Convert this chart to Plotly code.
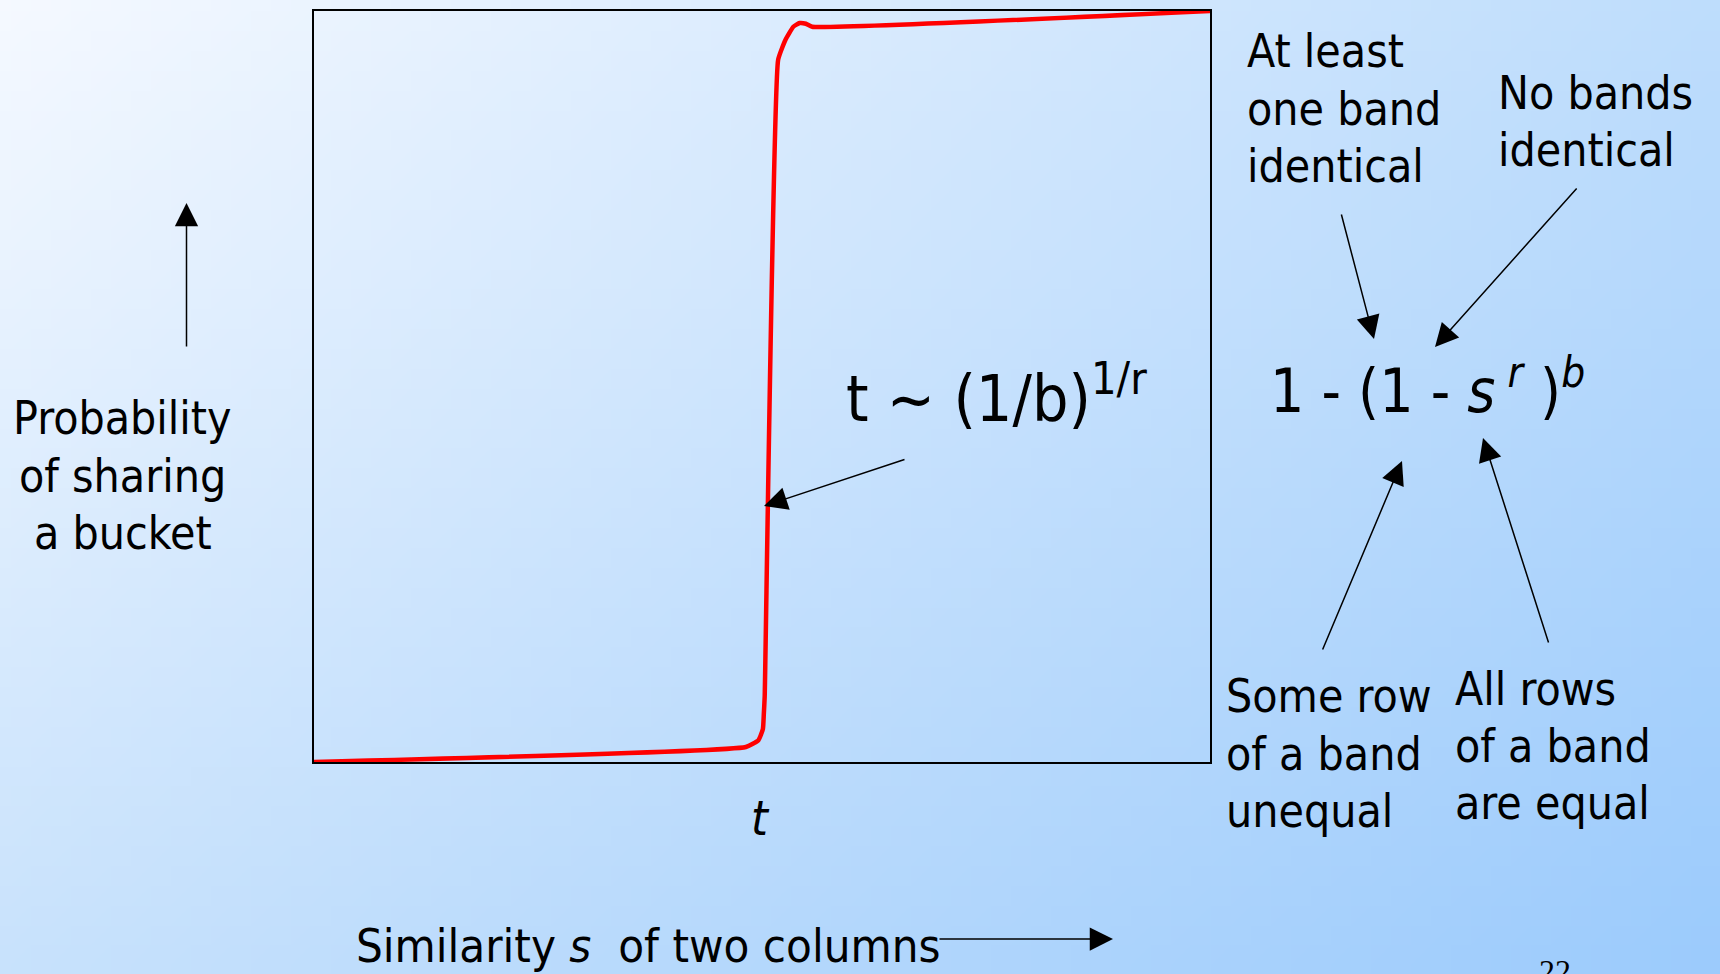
import base64
import struct
import zlib

import plotly.graph_objects as go

# ---------------- data ----------------
sim_s = [0.0, 0.482, 0.496, 0.501, 0.502, 0.503, 0.518, 0.526, 0.535, 0.542, 0.549, 0.556, 1.0]
prob = [0.0, 0.020, 0.029, 0.044, 0.063, 0.087, 0.935, 0.961, 0.979, 0.984, 0.983, 0.979, 1.0]

y_label_lines = ["Probability", "of sharing", "a bucket"]
x_label = "Similarity <i>s</i>  of two columns"
t_label = "t"
threshold_label = "t ~ (1/b)<sup>1/r</sup>"
formula = "1 - (1 - <i>s</i><sup> <i>r</i></sup> )<sup><i>b</i></sup>"
left_note = ["At least", "one band", "identical"]
right_note = ["No bands", "identical"]
low_left_note = ["Some row", "of a band", "unequal"]
low_right_note = ["All rows", "of a band", "are equal"]
page_number = "22"

W, H = 1720, 974
FONT = "DejaVu Sans Condensed, DejaVu Sans, sans-serif"
DESC = 0.236  # font descent (em)


# ---------------- background gradient (PNG data URI) ----------------
def make_png(w, h, corners):
    tl, tr, bl, br = corners
    raw = bytearray()
    for j in range(h):
        v = j / (h - 1)
        raw.append(0)
        for i in range(w):
            u = i / (w - 1)
            for c in range(3):
                top = tl[c] * (1 - u) + tr[c] * u
                bot = bl[c] * (1 - u) + br[c] * u
                raw.append(int(round(top * (1 - v) + bot * v)))

    def chunk(tag, data):
        c = struct.pack(">I", len(data)) + tag + data
        return c + struct.pack(">I", zlib.crc32(tag + data) & 0xFFFFFFFF)

    png = b"\x89PNG\r\n\x1a\n"
    png += chunk(b"IHDR", struct.pack(">IIBBBBB", w, h, 8, 2, 0, 0, 0))
    png += chunk(b"IDAT", zlib.compress(bytes(raw), 9))
    png += chunk(b"IEND", b"")
    return "data:image/png;base64," + base64.b64encode(png).decode()


bg = make_png(86, 49, [(245, 249, 255), (190, 221, 252), (200, 226, 252), (156, 203, 252)])


def px(x):
    return x / W


def py(y):
    return 1 - y / H


annotations = []


def text(t, x, base, size, anchor="left", italic=False, family=FONT):
    annotations.append(dict(
        text=t, xref="paper", yref="paper", x=px(x), y=py(base + DESC * size + 1),
        xanchor=anchor, yanchor="bottom", showarrow=False,
        font=dict(family=family, size=size, color="black",
                  style="italic" if italic else "normal"),
    ))


def arrow(x0, y0, x1, y1):
    annotations.append(dict(
        text="", xref="paper", yref="paper", x=px(x1), y=py(y1),
        ax=x0 - x1, ay=y0 - y1, showarrow=True, arrowhead=2, arrowsize=3.1,
        arrowwidth=1.5, arrowcolor="black", standoff=0, startstandoff=0,
    ))


# left label
for line, base in zip(y_label_lines, [435, 493, 550]):
    text(line, 123, base, 46, anchor="center")
arrow(186.5, 348, 186.5, 203)

# bottom label
text(x_label, 354, 963, 47)
arrow(938, 939, 1113, 939)

# t under the box
text(t_label, 760, 836, 48, anchor="center", italic=True)

# threshold
text(threshold_label, 844, 422, 64)
arrow(906, 459, 764, 506)

# formula
text(formula, 1268, 413, 60)

for line, base in zip(left_note, [68, 126, 183]):
    text(line, 1245, base, 46)
for line, base in zip(right_note, [110, 167]):
    text(line, 1496, base, 46)
for line, base in zip(low_left_note, [713, 771, 828]):
    text(line, 1224, base, 46)
for line, base in zip(low_right_note, [706, 763, 820]):
    text(line, 1453, base, 46)

arrow(1341, 213, 1374, 339)
arrow(1578, 187, 1435, 347)
arrow(1322, 651, 1402, 461)
arrow(1549, 644, 1483, 438)

text(page_number, 1555, 982, 32, anchor="center", family="Liberation Serif, serif")

fig = go.Figure()
fig.add_trace(go.Scatter(
    x=sim_s, y=prob, mode="lines",
    line=dict(color="#ff0000", width=4.5, shape="spline", smoothing=0.4),
    hoverinfo="skip", showlegend=False,
))

axis_common = dict(showgrid=False, zeroline=False, showticklabels=False, ticks="",
                   showline=True, mirror=True, linecolor="black", linewidth=2,
                   fixedrange=True)
fig.update_layout(
    width=W, height=H,
    margin=dict(l=0, r=0, t=0, b=0),
    paper_bgcolor="#cfe5fc",
    plot_bgcolor="rgba(0,0,0,0)",
    xaxis=dict(range=[0, 1], domain=[px(314), px(1210)], **axis_common),
    yaxis=dict(range=[0, 1], domain=[py(762), py(11)], **axis_common),
    images=[dict(source=bg, xref="paper", yref="paper", x=0, y=1, sizex=1, sizey=1,
                 sizing="stretch", xanchor="left", yanchor="top", layer="below")],
    annotations=annotations,
)

fig.write_html(
    "out.html",
    config={"displayModeBar": False},
    post_script="document.body.style.margin='0';document.body.style.overflow='hidden';",
)
